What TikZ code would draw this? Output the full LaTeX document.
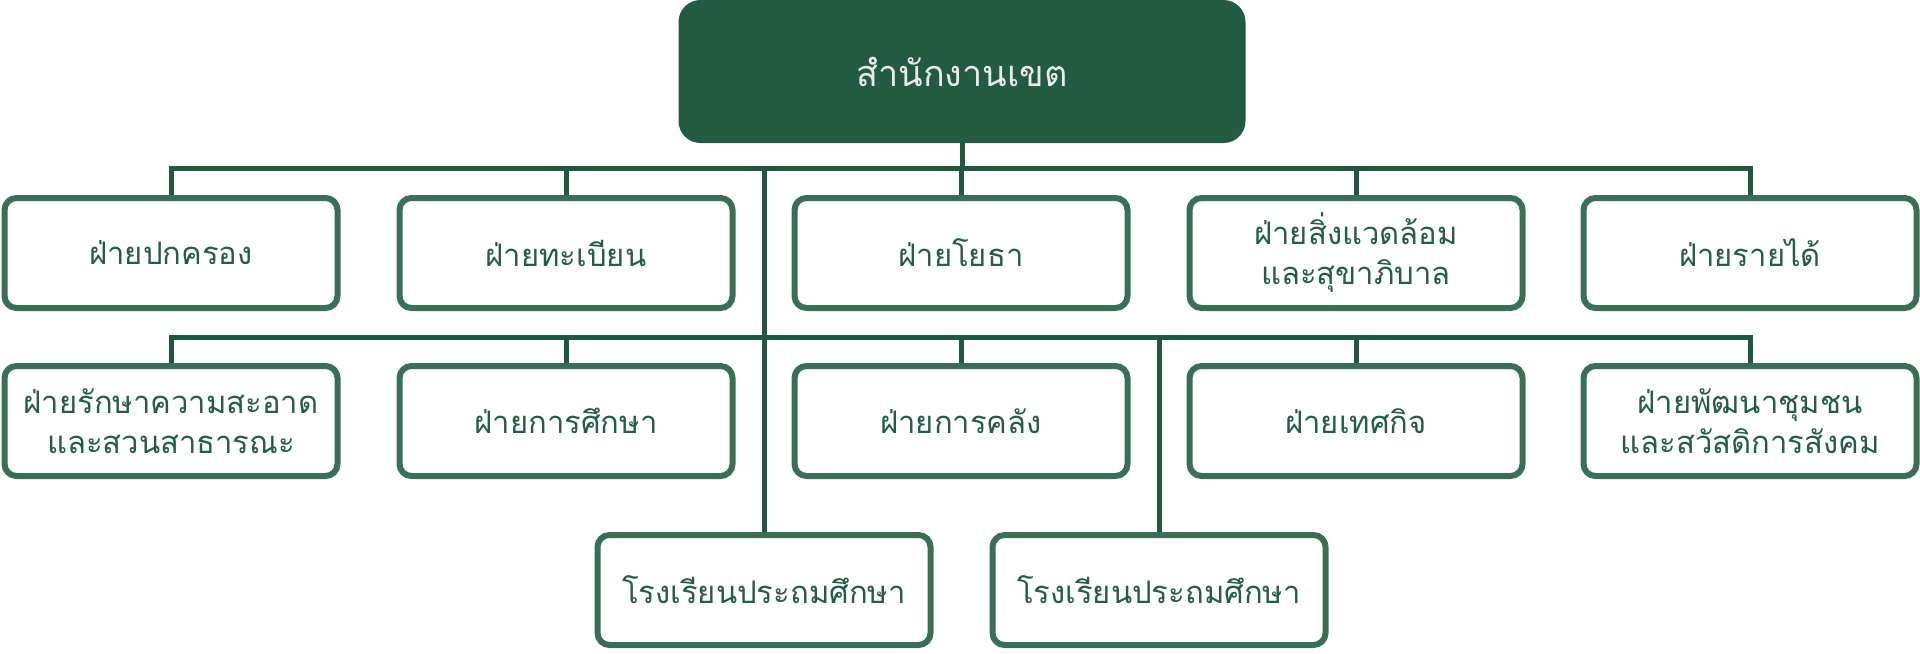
\documentclass[tikz,border=0pt]{standalone}
\usepackage{fontspec}
\newfontfamily\thaifont[Script=Thai]{Loma}
\definecolor{topfill}{HTML}{225B42}
\definecolor{txtgreen}{HTML}{255C45}
\definecolor{boxline}{HTML}{3B6E56}
\definecolor{conn}{HTML}{22573F}
\definecolor{toptxt}{HTML}{EAEAEA}
\tikzset{
  unitbox/.style={draw=boxline, line width=3pt, rounded corners=6pt, fill=white,
    minimum width=333*0.5pt, minimum height=110*0.5pt, inner sep=0pt,
    align=center, text=txtgreen, font=\thaifont\fontsize{15.5}{20}\selectfont},
  headbox/.style={fill=topfill, rounded corners=11pt,
    minimum width=567*0.5pt, minimum height=143*0.5pt, inner sep=0pt,
    text=toptxt, font=\thaifont\fontsize{18}{22}\selectfont},
  connector/.style={draw=conn, line width=2.5pt}
}
\begin{document}
\begin{tikzpicture}[x=0.5pt,y=-0.5pt]
\useasboundingbox (0,0) rectangle (1920,653);
% head
\node[headbox] (top) at (962,71.5) {สำนักงานเขต};
% row 1
\node[unitbox] (a1) at (171,253) {ฝ่ายปกครอง};
\node[unitbox] (a2) at (566,253) {ฝ่ายทะเบียน};
\node[unitbox] (a3) at (961,253) {ฝ่ายโยธา};
\node[unitbox] (a4) at (1356,253) {ฝ่ายสิ่งแวดล้อม\\และสุขาภิบาล};
\node[unitbox] (a5) at (1750,253) {ฝ่ายรายได้};
% row 2
\node[unitbox] (b1) at (171,421) {ฝ่ายรักษาความสะอาด\\และสวนสาธารณะ};
\node[unitbox] (b2) at (566,421) {ฝ่ายการศึกษา};
\node[unitbox] (b3) at (961,421) {ฝ่ายการคลัง};
\node[unitbox] (b4) at (1356,421) {ฝ่ายเทศกิจ};
\node[unitbox] (b5) at (1750,421) {ฝ่ายพัฒนาชุมชน\\และสวัสดิการสังคม};
% row 3
\node[unitbox] (c1) at (764,590) {โรงเรียนประถมศึกษา};
\node[unitbox] (c2) at (1159,590) {โรงเรียนประถมศึกษา};
% bus coordinates
\coordinate (bus1) at (963,168);
\coordinate (bus2) at (963,337);
% connectors
\draw[connector] (a1.north) |- (bus1) -| (a5.north);
\draw[connector] (top.south) -- (top.south |- bus1);
\draw[connector] (a2.north) -- (a2.north |- bus1);
\draw[connector] (a3.north) -- (a3.north |- bus1);
\draw[connector] (a4.north) -- (a4.north |- bus1);
\draw[connector] (b1.north) |- (bus2) -| (b5.north);
\draw[connector] (b2.north) -- (b2.north |- bus2);
\draw[connector] (b3.north) -- (b3.north |- bus2);
\draw[connector] (b4.north) -- (b4.north |- bus2);
\draw[connector] (c1.north) -- (c1.north |- bus1);
\draw[connector] (c2.north) -- (c2.north |- bus2);
\end{tikzpicture}
\end{document}
